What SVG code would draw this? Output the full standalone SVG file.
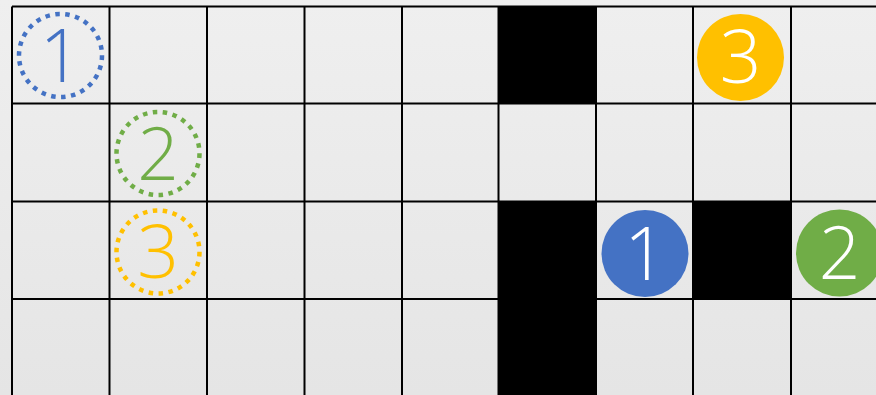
<svg xmlns="http://www.w3.org/2000/svg" width="876" height="395" viewBox="0 0 876 395">
<defs>
<linearGradient id="bg" x1="0" y1="0" x2="0" y2="1">
<stop offset="0" stop-color="#efefef"/>
<stop offset="1" stop-color="#e5e5e5"/>
</linearGradient>
<style>
.grid line{stroke:#000;stroke-width:2}
.blk{fill:#000}
.dot{fill:none;stroke-width:4.5;stroke-dasharray:4.5 5.5}
.num{font-family:"Open Sans","Liberation Sans",sans-serif;font-weight:300;font-size:73px;text-anchor:middle}
</style>
</defs>
<rect width="876" height="395" fill="url(#bg)"/>
<g id="blocks">
<rect class="blk" x="498.5" y="6.5" width="97.5" height="97"/>
<rect class="blk" x="498.5" y="201.5" width="97.5" height="194"/>
<rect class="blk" x="693" y="201.5" width="98" height="97.5"/>
</g>
<g class="grid" id="grid">
<line x1="12" y1="6.5" x2="876" y2="6.5"/>
<line x1="12" y1="103.5" x2="876" y2="103.5"/>
<line x1="12" y1="201.5" x2="876" y2="201.5"/>
<line x1="12" y1="299" x2="876" y2="299"/>
<line x1="12" y1="6.5" x2="12" y2="395"/>
<line x1="109.5" y1="6.5" x2="109.5" y2="395"/>
<line x1="207" y1="6.5" x2="207" y2="395"/>
<line x1="304.5" y1="6.5" x2="304.5" y2="395"/>
<line x1="402" y1="6.5" x2="402" y2="395"/>
<line x1="498.5" y1="6.5" x2="498.5" y2="395"/>
<line x1="596" y1="6.5" x2="596" y2="395"/>
<line x1="693" y1="6.5" x2="693" y2="395"/>
<line x1="791" y1="6.5" x2="791" y2="395"/>
</g>
<g id="start1">
<circle class="dot" cx="60.5" cy="55.5" r="41.5" stroke="#4472C4"/>
<text class="num" x="60.5" y="81.5" fill="#4472C4">1</text>
</g>
<g id="start2">
<circle class="dot" cx="158" cy="153.5" r="41.5" stroke="#70AD47"/>
<text class="num" x="158" y="180" fill="#70AD47">2</text>
</g>
<g id="start3">
<circle class="dot" cx="158" cy="252" r="41.5" stroke="#FFC000"/>
<text class="num" x="158" y="277.5" fill="#FFC000">3</text>
</g>
<g id="end3">
<circle cx="740.5" cy="57.5" r="43.5" fill="#FFC000"/>
<text class="num" x="740.5" y="82.5" fill="#fff">3</text>
</g>
<g id="end1">
<circle cx="645" cy="253.5" r="43.5" fill="#4472C4"/>
<text class="num" x="645" y="280" fill="#fff">1</text>
</g>
<g id="end2">
<circle cx="839.5" cy="253" r="43.5" fill="#70AD47"/>
<text class="num" x="839.5" y="279" fill="#fff">2</text>
</g>
</svg>
